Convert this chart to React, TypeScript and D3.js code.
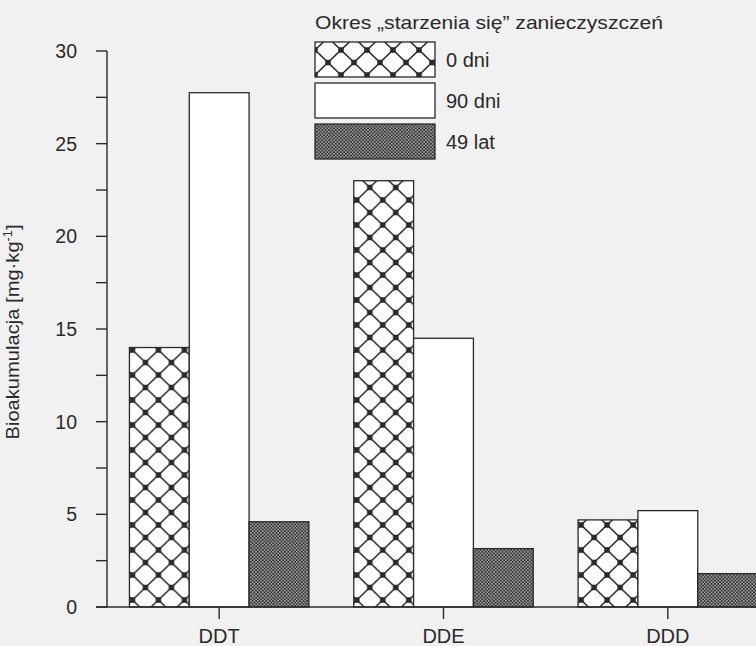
import React from 'react';
import * as d3 from 'd3';

const categories = ['DDT', 'DDE', 'DDD'];
const seriesNames = ['0 dni', '90 dni', '49 lat'];
const values0dni = [14.0, 23.0, 4.7];
const values90dni = [27.75, 14.5, 5.2];
const values49lat = [4.6, 3.15, 1.8];
const yTickValues = [0, 2.5, 5, 7.5, 10, 12.5, 15, 17.5, 20, 22.5, 25, 27.5, 30];
const yTickLabels = ['0', '', '5', '', '10', '', '15', '', '20', '', '25', '', '30'];
const legendTitle = 'Okres \u201Estarzenia si\u0119\u201D zanieczyszcze\u0144';

const W = 756;
const H = 646;
const FONT = 'Liberation Sans, Arial, Helvetica, sans-serif';
const INK = '#2a2a2a';
const BG = '#f1f1f1';

export default function App() {
  const x = d3.scaleBand<string>().domain(categories).range([107, 780]).paddingInner(0.2).paddingOuter(0.1);
  const xs = d3.scaleBand<string>().domain(seriesNames).range([0, x.bandwidth()]).padding(0);
  const y = d3.scaleLinear().domain([0, 30]).range([607, 51]);
  const seriesValues = [values0dni, values90dni, values49lat];
  const fills = ['url(#lattice)', '#ffffff', 'url(#dots)'];
  const axisX = 107;
  const y0 = y(0);

  return (
    <svg width={W} height={H} viewBox={`0 0 ${W} ${H}`}
      style={{ position: 'absolute', left: 0, top: 0, display: 'block', overflow: 'hidden' }}>
      <defs>
        <pattern id="lattice" patternUnits="userSpaceOnUse" width={26} height={25} x={3} y={0}>
          <rect x={0} y={0} width={26} height={25} fill="#ffffff" />
          <line x1={0} y1={0} x2={26} y2={25} stroke={INK} strokeWidth={1.6} />
          <line x1={26} y1={0} x2={0} y2={25} stroke={INK} strokeWidth={1.6} />
          <rect x={-2.75} y={-2.75} width={5.5} height={5.5} fill={INK} />
          <rect x={23.25} y={-2.75} width={5.5} height={5.5} fill={INK} />
          <rect x={-2.75} y={22.25} width={5.5} height={5.5} fill={INK} />
          <rect x={23.25} y={22.25} width={5.5} height={5.5} fill={INK} />
          <rect x={10.25} y={9.75} width={5.5} height={5.5} fill={INK} />
        </pattern>
        <pattern id="dots" patternUnits="userSpaceOnUse" width={3.4} height={3.4}>
          <rect x={0} y={0} width={3.4} height={3.4} fill="#333333" />
          <rect x={0.2} y={0.2} width={1.2} height={1.2} fill="#ffffff" />
          <rect x={1.9} y={1.9} width={1.2} height={1.2} fill="#ffffff" />
        </pattern>
      </defs>
      <rect x={0} y={0} width={W} height={H} fill={BG} />

      {/* bars */}
      {categories.map((c, ci) => (
        <g key={c} transform={`translate(${x(c)},0)`}>
          {seriesNames.map((s, si) => {
            const v = seriesValues[si][ci];
            return (
              <rect key={s} x={xs(s)} y={y(v)} width={xs.bandwidth()} height={y0 - y(v)}
                fill={fills[si]} stroke={INK} strokeWidth={1.3} />
            );
          })}
        </g>
      ))}

      {/* y axis */}
      <line x1={axisX} y1={y(30)} x2={axisX} y2={y0} stroke={INK} strokeWidth={1.4} />
      {yTickValues.map((t, i) => (
        <g key={t}>
          <line x1={96} x2={axisX} y1={y(t)} y2={y(t)} stroke={INK} strokeWidth={1.4} />
          {yTickLabels[i] && (
            <text x={77} y={y(t)} dy="0.36em" textAnchor="end" fontFamily={FONT} fontSize={19.5} fill={INK}>
              {yTickLabels[i]}
            </text>
          )}
        </g>
      ))}

      {/* x axis */}
      <line x1={96} x2={W} y1={y0} y2={y0} stroke={INK} strokeWidth={1.4} />
      {categories.map((c) => {
        const cx = (x(c) as number) + x.bandwidth() / 2;
        return (
          <g key={c}>
            <line x1={cx} x2={cx} y1={y0} y2={y0 + 12} stroke={INK} strokeWidth={1.4} />
            <text x={cx} y={643} textAnchor="middle" fontFamily={FONT} fontSize={20} fill={INK}>{c}</text>
          </g>
        );
      })}

      {/* y axis title */}
      <text transform="translate(19,332) rotate(-90)" textAnchor="middle" fontFamily={FONT} fontSize={19}
        fill={INK} textLength={215} lengthAdjust="spacingAndGlyphs">
        Bioakumulacja [mg·kg<tspan dy="-7" fontSize={12}>-1</tspan><tspan dy="7">]</tspan>
      </text>

      {/* legend */}
      <text x={315} y={29} fontFamily={FONT} fontSize={19} fill={INK}
        textLength={348} lengthAdjust="spacingAndGlyphs">{legendTitle}</text>
      {seriesNames.map((s, si) => {
        const top = 42 + si * 41;
        return (
          <g key={s}>
            <rect x={315} y={top} width={120} height={35} fill={fills[si]} stroke={INK} strokeWidth={1.3} />
            <text x={446} y={top + 18} dy="0.36em" fontFamily={FONT} fontSize={20} fill={INK}>{s}</text>
          </g>
        );
      })}
    </svg>
  );
}
